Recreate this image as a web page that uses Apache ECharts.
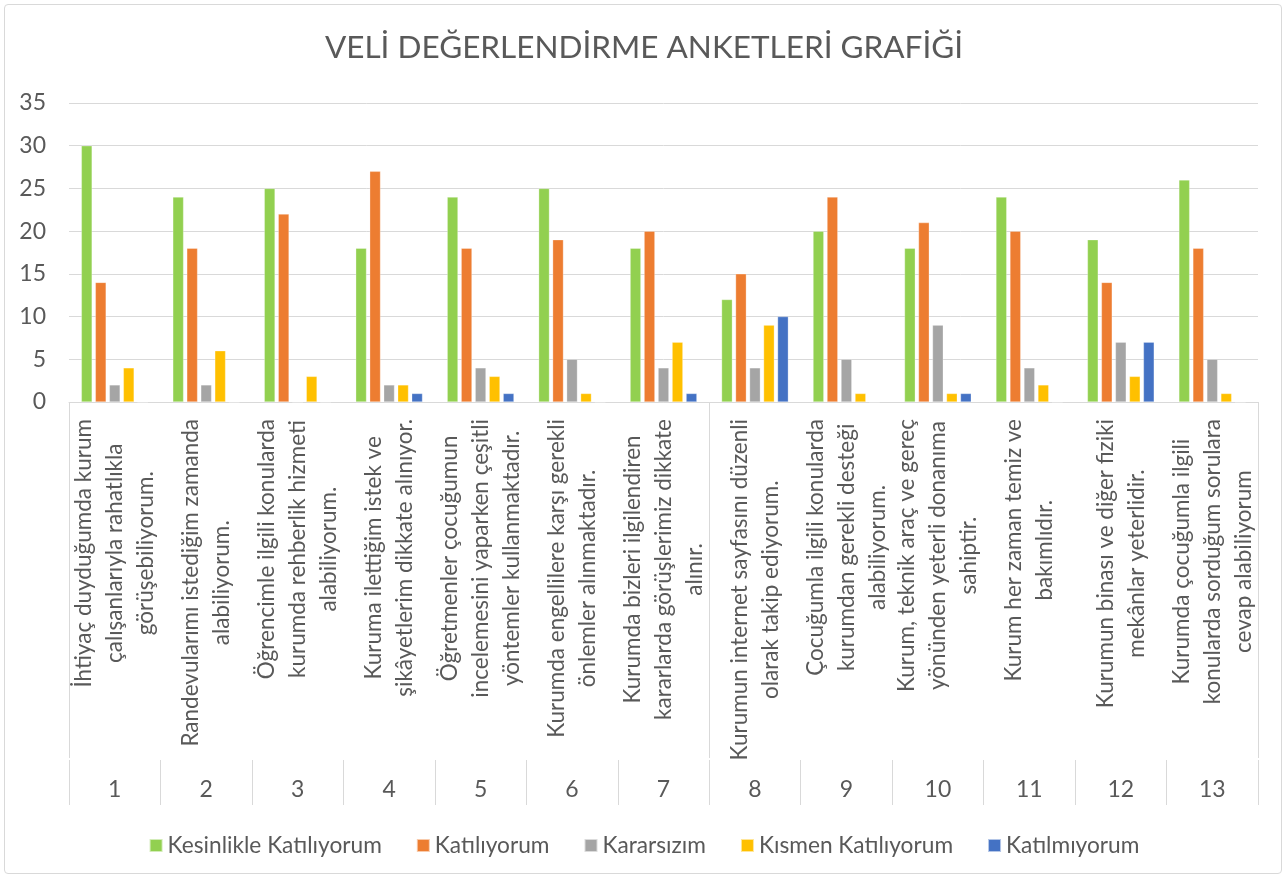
<!DOCTYPE html>
<html>
<head>
<meta charset="utf-8">
<script src="https://cdn.jsdelivr.net/npm/echarts@6/dist/echarts.min.js"></script>
<style>
html,body{margin:0;padding:0;background:#fff;}
#frame{position:absolute;left:4px;top:4px;width:1278px;height:870px;border:1px solid #d9d9d9;border-radius:4px;box-sizing:border-box;}
#chart{position:absolute;left:0;top:0;width:1288px;height:880px;}
</style>
</head>
<body>
<div id="frame"></div>
<div id="chart"></div>
<script>
const titleText = 'VELİ DEĞERLENDİRME ANKETLERİ GRAFİĞİ';
const statementLines = [
  ['İhtiyaç duyduğumda kurum','çalışanlarıyla rahatlıkla','görüşebiliyorum.'],
  ['Randevularımı istediğim zamanda','alabiliyorum.'],
  ['Öğrencimle ilgili konularda','kurumda rehberlik hizmeti','alabiliyorum.'],
  ['Kuruma ilettiğim istek ve','şikâyetlerim dikkate alınıyor.'],
  ['Öğretmenler çocuğumun','incelemesini yaparken çeşitli','yöntemler kullanmaktadır.'],
  ['Kurumda engellilere karşı gerekli','önlemler alınmaktadır.'],
  ['Kurumda bizleri ilgilendiren','kararlarda görüşlerimiz dikkate','alınır.'],
  ['Kurumun internet sayfasını düzenli','olarak takip ediyorum.'],
  ['Çocuğumla ilgili konularda','kurumdan gerekli desteği','alabiliyorum.'],
  ['Kurum, teknik araç ve gereç','yönünden yeterli donanıma','sahiptir.'],
  ['Kurum her zaman temiz ve','bakımlıdır.'],
  ['Kurumun binası ve diğer fiziki','mekânlar yeterlidir.'],
  ['Kurumda çocuğumla ilgili','konularda sorduğum sorulara','cevap alabiliyorum']
];
const statements = statementLines.map(l => l.join(' '));
const itemNumbers = ['1','2','3','4','5','6','7','8','9','10','11','12','13'];
const seriesNames = ['Kesinlikle Katılıyorum','Katılıyorum','Kararsızım','Kısmen Katılıyorum','Katılmıyorum'];
const kesinlikleKatiliyorum = [30,24,25,18,24,25,18,12,20,18,24,19,26];
const katiliyorum          = [14,18,22,27,18,19,20,15,24,21,20,14,18];
const kararsizim           = [2,2,0,2,4,5,4,4,5,9,4,7,5];
const kismenKatiliyorum    = [4,6,3,2,3,1,7,9,1,1,2,3,1];
const katilmiyorum         = [0,0,0,1,1,0,1,10,0,1,0,7,0];

const seriesData = [kesinlikleKatiliyorum, katiliyorum, kararsizim, kismenKatiliyorum, katilmiyorum];
const colors = ['#92D050','#ED7D31','#A5A5A5','#FFC000','#4472C4'];
const FONT = 'Lato, "Open Sans", sans-serif';
const TXT = '#595959';
const GRID = '#d9d9d9';
const CAT_FS = 22.5;
const LINE_H = 31;
const LABEL_GAP = 17;

const chart = echarts.init(document.getElementById('chart'), null, {renderer:'canvas'});
chart.setOption({
  animation:false,
  color: colors,
  title:{
    text:titleText, left:'center', top:27,
    textStyle:{fontFamily:FONT, fontSize:31.5, fontWeight:'normal', color:TXT}
  },
  legend:{
    data:seriesNames, left:'center', top:829,
    icon:'rect', itemWidth:13, itemHeight:13, itemGap:34,
    textStyle:{fontFamily:FONT, fontSize:22.7, color:TXT}
  },
  grid:{left:69, right:30, top:103, bottom:478, containLabel:false},
  xAxis:[{
    type:'category', data:statements, position:'bottom',
    axisLine:{show:true, lineStyle:{color:GRID, width:1}},
    axisTick:{show:true, length:356, lineStyle:{color:GRID, width:1}},
    axisLabel:{show:false}
  },{
    type:'category', data:itemNumbers, position:'bottom', offset:358,
    axisLine:{show:false},
    axisTick:{show:true, length:45, lineStyle:{color:GRID, width:1}},
    axisLabel:{margin:18, fontFamily:FONT, fontSize:23, color:TXT, interval:0}
  }],
  yAxis:{
    type:'value', min:0, max:35, interval:5,
    axisLine:{show:false}, axisTick:{show:false},
    axisLabel:{margin:23, fontFamily:FONT, fontSize:23, color:TXT},
    splitLine:{lineStyle:{color:GRID, width:1}}
  },
  series: seriesNames.map((n,i)=>({
    name:n, type:'bar', xAxisIndex:0, data:seriesData[i],
    barGap:'30%', barCategoryGap:'27%',
    itemStyle:{borderColor:'rgba(255,255,255,0.6)', borderWidth:0.5}
  }))
});

// Category statement labels (Excel style: vertical, wrapped lines centred on each other,
// block starting just below the axis). Positions come from the chart's own axis scales.
const measureCtx = document.createElement('canvas').getContext('2d');
measureCtx.font = CAT_FS + 'px Lato';
const axisY = chart.convertToPixel({yAxisIndex:0}, 0);
const labelGraphics = [];
statementLines.forEach((lines, i) => {
  const cx = chart.convertToPixel({xAxisIndex:0}, statements[i]);
  const maxW = Math.max(...lines.map(l => measureCtx.measureText(l).width));
  const cy = axisY + LABEL_GAP + maxW / 2;
  const n = lines.length;
  lines.forEach((l, j) => {
    labelGraphics.push({
      type:'text', silent:true,
      x: cx + (j - (n - 1) / 2) * LINE_H,
      y: cy,
      rotation: Math.PI / 2,
      style:{
        text:l, fill:TXT, fontFamily:'Lato', fontSize:CAT_FS,
        align:'center', verticalAlign:'middle'
      }
    });
  });
});
chart.setOption({graphic: labelGraphics});
</script>
</body>
</html>
